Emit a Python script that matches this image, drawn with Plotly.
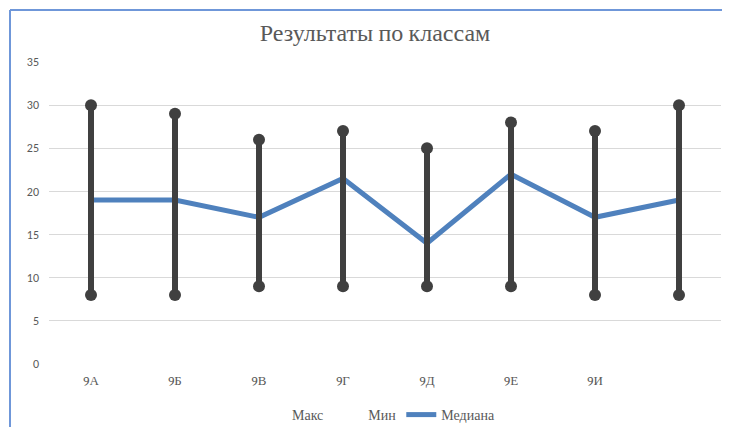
import plotly.graph_objects as go

categories = ["9А", "9Б", "9В", "9Г", "9Д", "9Е", "9И", ""]
max_vals = [30, 29, 26, 27, 25, 28, 27, 30]
min_vals = [8, 8, 9, 9, 9, 9, 8, 8]
median_vals = [19, 19, 17, 21.5, 14, 22, 17, 19]

xs = list(range(len(categories)))
serif = "Cambria, 'Liberation Serif', 'DejaVu Serif', serif"
gray = "#595959"
dark = "#404040"
blue = "#4F81BD"

# page body has an 8px margin: figure drawn at (8,8)
W, H = 722, 419
L, T = 41, 54
PW, PH = 672, 302
R = W - L - PW
B = H - T - PH

fig = go.Figure()

fig.add_trace(go.Scatter(x=xs, y=median_vals, mode="lines", name="Медиана",
                         line=dict(color=blue, width=5), showlegend=True, legendrank=3))

hx, hy = [], []
for x, lo, hi in zip(xs, min_vals, max_vals):
    hx += [x, x, None]
    hy += [lo, hi, None]
fig.add_trace(go.Scatter(x=hx, y=hy, mode="lines", line=dict(color=dark, width=6),
                         showlegend=False, hoverinfo="skip"))

fig.add_trace(go.Scatter(x=xs, y=max_vals, mode="markers", name="Макс",
                         marker=dict(color=dark, size=12), showlegend=False))
fig.add_trace(go.Scatter(x=xs, y=min_vals, mode="markers", name="Мин",
                         marker=dict(color=dark, size=12), showlegend=False))

fig.add_trace(go.Scatter(x=[None], y=[None], mode="markers", name="Макс",
                         marker=dict(color="rgba(0,0,0,0)", size=1), legendrank=1))
fig.add_trace(go.Scatter(x=[None], y=[None], mode="markers", name="Мин",
                         marker=dict(color="rgba(0,0,0,0)", size=1), legendrank=2))


def px_x(p):
    return (p - 8 - L) / PW


def px_y(p):
    return (T + PH - (p - 8)) / PH


fig.update_layout(
    width=W, height=H,
    margin=dict(l=L, r=R, t=T, b=B, autoexpand=False),
    paper_bgcolor="white", plot_bgcolor="white",
    title=dict(text="Результаты по классам", x=px_x(375), xref="paper", xanchor="center",
               y=1 - (33 - 8) / H, yanchor="middle",
               font=dict(family=serif, size=24, color=gray)),
    xaxis=dict(range=[-0.5, 7.5], tickmode="array", tickvals=xs, ticktext=categories,
               showgrid=False, zeroline=False, showline=False, ticks="", automargin=False,
               ticklabelstandoff=7,
               tickfont=dict(family=serif, size=13, color=gray), fixedrange=True),
    yaxis=dict(range=[0, 35], dtick=5, showgrid=True, gridcolor="#D9D9D9", gridwidth=1,
               zeroline=False, showline=False, ticks="", ticklabelstandoff=9, automargin=False,
               tickfont=dict(family="Carlito, 'Liberation Sans', sans-serif", size=12, color=gray)),
    legend=dict(orientation="h", x=px_x(376), xanchor="center",
                y=px_y(399), yanchor="top",
                font=dict(family=serif, size=14, color=gray), traceorder="normal",
                itemwidth=30),
    showlegend=True,
    shapes=[
        dict(type="line", xref="paper", yref="paper", x0=px_x(10), x1=px_x(10),
             y0=px_y(10), y1=px_y(440), line=dict(color="#6F97D9", width=2)),
        dict(type="line", xref="paper", yref="paper", x0=px_x(10), x1=px_x(745),
             y0=px_y(10), y1=px_y(10), line=dict(color="#6F97D9", width=2)),
    ],
)

fig.write_html("out.html")
